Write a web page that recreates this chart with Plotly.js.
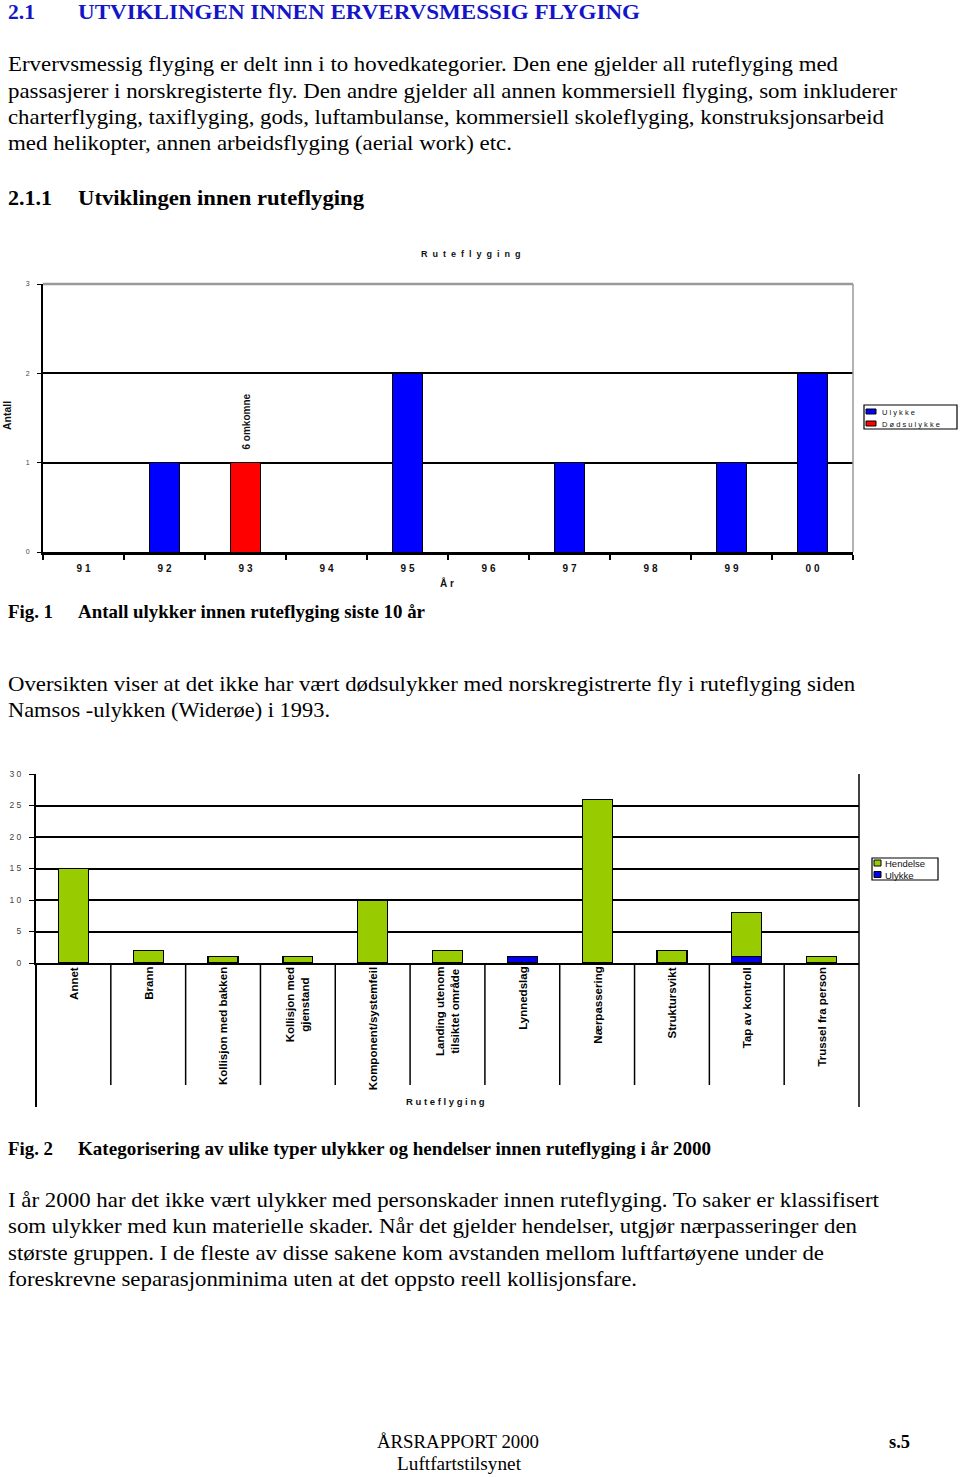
<!DOCTYPE html>
<html><head><meta charset="utf-8">
<script src="https://cdn.plot.ly/plotly-3.0.1.min.js"></script>
<style>
body{margin:0;width:960px;height:1477px;position:relative;background:#fff;overflow:hidden}
.t{position:absolute;white-space:nowrap;font-family:"Liberation Serif","Times New Roman",serif;color:#000;transform-origin:0 50%;font-size:21px;line-height:21px;height:21px}
.b{font-weight:bold}
.cap{font-size:19px;line-height:19px;height:19px}
.blue{color:#1515c8}
#c1,#c2{position:absolute;left:0;width:960px}
#c1{top:230px;height:370px}
#c2{top:760px;height:360px}
</style></head><body>

<div class="t b blue" style="left:8px;top:2px" data-w="27">2.1</div>
<div class="t b blue" style="left:78px;top:2px" data-w="562">UTVIKLINGEN INNEN ERVERVSMESSIG FLYGING</div>

<div class="t" style="left:8px;top:54px" data-w="830">Ervervsmessig flyging er delt inn i to hovedkategorier. Den ene gjelder all ruteflyging med</div>
<div class="t" style="left:8px;top:81px" data-w="889">passasjerer i norskregisterte fly. Den andre gjelder all annen kommersiell flyging, som inkluderer</div>
<div class="t" style="left:8px;top:107px" data-w="876">charterflyging, taxiflyging, gods, luftambulanse, kommersiell skoleflyging, konstruksjonsarbeid</div>
<div class="t" style="left:8px;top:133px" data-w="504">med helikopter, annen arbeidsflyging (aerial work) etc.</div>

<div class="t b" style="left:8px;top:188px" data-w="44">2.1.1</div>
<div class="t b" style="left:78px;top:188px" data-w="286">Utviklingen innen ruteflyging</div>

<div id="c1"></div>

<div class="t b cap" style="left:8px;top:602px" data-w="45">Fig. 1</div>
<div class="t b cap" style="left:78px;top:602px" data-w="347">Antall ulykker innen ruteflyging siste 10 år</div>

<div class="t" style="left:8px;top:674px" data-w="847">Oversikten viser at det ikke har vært dødsulykker med norskregistrerte fly i ruteflyging siden</div>
<div class="t" style="left:8px;top:700px" data-w="322">Namsos -ulykken (Widerøe) i 1993.</div>

<div id="c2"></div>

<div class="t b cap" style="left:8px;top:1139px" data-w="45">Fig. 2</div>
<div class="t b cap" style="left:78px;top:1139px" data-w="633">Kategorisering av ulike typer ulykker og hendelser innen ruteflyging i år 2000</div>

<div class="t" style="left:8px;top:1190px" data-w="871">I år 2000 har det ikke vært ulykker med personskader innen ruteflyging. To saker er klassifisert</div>
<div class="t" style="left:8px;top:1216px" data-w="849">som ulykker med kun materielle skader. Når det gjelder hendelser, utgjør nærpasseringer den</div>
<div class="t" style="left:8px;top:1243px" data-w="816">største gruppen. I de fleste av disse sakene kom avstanden mellom luftfartøyene under de</div>
<div class="t" style="left:8px;top:1269px" data-w="629">foreskrevne separasjonminima uten at det oppsto reell kollisjonsfare.</div>

<div class="t cap" style="left:377px;top:1432px" data-w="162">ÅRSRAPPORT 2000</div>
<div class="t cap" style="left:397px;top:1454px" data-w="124">Luftfartstilsynet</div>
<div class="t b cap" style="left:889px;top:1432px" data-w="21">s.5</div>

<script>
// ---------- data: figure 1 ----------
const aar = ['91','92','93','94','95','96','97','98','99','00'];
const ulykkerPerAar = [0,1,0,0,2,0,1,0,1,2];
const dodsulykkerPerAar = [0,0,1,0,0,0,0,0,0,0];
const serier1 = ['Ulykke','Dødsulykke'];
const antallTicks1 = [0,1,2,3];
const merknad93 = '6 omkomne';

// ---------- data: figure 2 ----------
const kategorier = ['Annet','Brann','Kollisjon med bakken','Kollisjon med gjenstand','Komponent/systemfeil',
  'Landing utenom tilsiktet område','Lynnedslag','Nærpassering','Struktursvikt','Tap av kontroll','Trussel fra person'];
const kategoriEtiketter = ['Annet','Brann','Kollisjon med bakken','Kollisjon med<br>gjenstand','Komponent/systemfeil',
  'Landing utenom<br>tilsiktet område','Lynnedslag','Nærpassering','Struktursvikt','Tap av kontroll','Trussel fra person'];
const hendelser = [15,2,1,1,10,2,0,26,2,7,1];
const ulykker2000 = [0,0,0,0,0,0,1,0,0,1,0];
const serier2 = ['Hendelse','Ulykke'];
const antallTicks2 = [0,5,10,15,20,25,30];

const SANS = '"Liberation Sans", Arial, sans-serif';
const nz = a => a.map(v => v === 0 ? null : v);
const sp = (s, g) => String(s).split('').join(g || ' ');
const NB2 = '\u00a0\u00a0';

// ---------- chart 1 ----------
(function(){
  const pL=43, pR=853, pT=284, pB=552;
  const px = x => (x - pL) / (pR - pL);
  const py = y => (pB - y) / (pB - pT);
  const blue = '#0000ff', red = '#ff0000';
  const traces = [
    {type:'bar', x:aar, y:nz(ulykkerPerAar), name:serier1[0], width:0.38,
     marker:{color:blue, line:{color:'#000', width:1}}},
    {type:'bar', x:aar, y:nz(dodsulykkerPerAar), name:serier1[1], width:0.38,
     marker:{color:red, line:{color:'#000', width:1}}}
  ];
  const sw = (i, col) => ({type:'rect', xref:'paper', yref:'paper',
     x0:px(866), x1:px(876), y0:py(409 + i*12), y1:py(414 + i*12),
     fillcolor:col, line:{color:'#000', width:1}});
  const A = (o) => Object.assign({showarrow:false, xanchor:'center', yanchor:'middle', xref:'paper', yref:'paper'}, o);
  const layout = {
    width:960, height:370, margin:{l:pL, r:960-pR, t:pT-230, b:230+370-pB},
    paper_bgcolor:'rgba(0,0,0,0)', plot_bgcolor:'#fff', showlegend:false, barmode:'stack',
    xaxis:{type:'category', categoryorder:'array', categoryarray:aar, range:[-0.5, aar.length-0.5],
      tickvals:aar, ticktext:aar.map(a=>sp(a)), ticks:'outside', tickson:'boundaries',
      ticklen:5, tickwidth:1.5, tickcolor:'#000', showline:true, linecolor:'#000', linewidth:2.5,
      ticklabelstandoff:5,
      tickfont:{family:SANS, size:10, color:'#111', weight:'bold'}, showgrid:false, zeroline:false},
    yaxis:{range:[0,3], tickvals:antallTicks1, ticktext:antallTicks1.map(String), ticks:'outside', ticklen:4,
      tickcolor:'#000', tickwidth:1, showline:true, linecolor:'#000', linewidth:2,
      showgrid:true, gridcolor:'#000', gridwidth:2, zeroline:false, ticklabelstandoff:6,
      tickfont:{family:SANS, size:7, color:'#444'}},
    shapes:[
      {type:'line', xref:'paper', yref:'paper', x0:0, x1:1, y0:1, y1:1, line:{color:'#9a9a9a', width:2.5}},
      {type:'line', xref:'paper', yref:'paper', x0:1, x1:1, y0:0, y1:1, line:{color:'#9a9a9a', width:1.5}},
      {type:'rect', xref:'paper', yref:'paper', x0:px(864), x1:px(957), y0:py(405), y1:py(429),
       fillcolor:'#fff', line:{color:'#000', width:1.2}},
      sw(0, blue), sw(1, red)
    ],
    annotations:[
      A({text:sp('Ruteflyging', NB2), x:px(471), y:py(254), font:{family:SANS, size:9, color:'#111', weight:'bold'}}),
      A({text:sp('År'), x:px(447), y:py(583), font:{family:SANS, size:10, color:'#111', weight:'bold'}}),
      A({text:'Antall', x:px(7), y:py(416), textangle:-90, font:{family:SANS, size:10.5, color:'#111', weight:'bold'}}),
      A({text:merknad93, xref:'x', yref:'y', x:aar.indexOf('93'), y:(pB-422)/(pB-pT)*3, textangle:-90,
         font:{family:SANS, size:10, color:'#111', weight:'bold'}}),
      A({text:sp(serier1[0]), x:px(880), y:py(412), xanchor:'left', font:{family:SANS, size:7.5, color:'#111'}}),
      A({text:sp(serier1[1]), x:px(880), y:py(424), xanchor:'left', font:{family:SANS, size:7.5, color:'#111'}})
    ]
  };
  Plotly.newPlot('c1', traces, layout, {displayModeBar:false, staticPlot:true});
})();

// ---------- chart 2 ----------
(function(){
  const pL=36, pR=859, pT=774, pB=963;
  const px = x => (x - pL) / (pR - pL);
  const py = y => (pB - y) / (pB - pT);
  const green = '#99cc00', blue = '#0000ee';
  const n = kategorier.length;
  const traces = [
    {type:'bar', x:kategorier, y:nz(ulykker2000), name:serier2[1], width:0.4,
     marker:{color:blue, line:{color:'#000', width:1.2}}},
    {type:'bar', x:kategorier, y:nz(hendelser), name:serier2[0], width:0.4,
     marker:{color:green, line:{color:'#000', width:1.2}}}
  ];
  const shapes = [
    {type:'line', xref:'paper', yref:'paper', x0:0, x1:0, y0:0, y1:py(1107), line:{color:'#000', width:2}},
    {type:'line', xref:'paper', yref:'paper', x0:1, x1:1, y0:1, y1:py(1107), line:{color:'#000', width:1.5}}
  ];
  for (let i = 1; i < n; i++) {
    shapes.push({type:'line', xref:'paper', yref:'paper', x0:i/n, x1:i/n, y0:0, y1:py(1085),
      line:{color:'#000', width:1.5}});
  }
  shapes.push({type:'rect', xref:'paper', yref:'paper', x0:px(872), x1:px(938), y0:py(858), y1:py(880),
    fillcolor:'#fff', line:{color:'#000', width:1.2}});
  const sw = (i, col) => ({type:'rect', xref:'paper', yref:'paper',
     x0:px(874), x1:px(881), y0:py(860 + i*11.5), y1:py(866 + i*11.5),
     fillcolor:col, line:{color:'#000', width:1}});
  shapes.push(sw(0, green), sw(1, blue));
  const A = (o) => Object.assign({showarrow:false, xanchor:'center', yanchor:'middle', xref:'paper', yref:'paper'}, o);
  const annotations = kategoriEtiketter.map((lab, i) => A({
    text:lab, xref:'x', x:i, y:py(965), yanchor:'top', textangle:-90, align:'center',
    font:{family:SANS, size:11.5, color:'#000', weight:'bold'}
  }));
  annotations.push(
    A({text:sp('Ruteflyging'), x:px(445), y:py(1101), font:{family:SANS, size:9.5, color:'#111', weight:'bold'}}),
    A({text:serier2[0], x:px(883), y:py(863), xanchor:'left', font:{family:SANS, size:9.5, color:'#111'}}),
    A({text:serier2[1], x:px(883), y:py(875), xanchor:'left', font:{family:SANS, size:9.5, color:'#111'}})
  );
  const layout = {
    width:960, height:360, margin:{l:pL, r:960-pR, t:pT-760, b:760+360-pB},
    paper_bgcolor:'rgba(0,0,0,0)', plot_bgcolor:'#fff', showlegend:false, barmode:'stack',
    xaxis:{type:'category', categoryorder:'array', categoryarray:kategorier, range:[-0.5, n-0.5],
      showticklabels:false, ticks:'', showline:true, linecolor:'#000', linewidth:2, showgrid:false, zeroline:false},
    yaxis:{range:[0,30], tickvals:antallTicks2, ticktext:antallTicks2.map(v=>sp(v)), ticks:'outside',
      ticklen:5, tickcolor:'#000', tickwidth:1, showline:true, linecolor:'#000', linewidth:2,
      showgrid:true, gridcolor:'#000', gridwidth:2, zeroline:false, ticklabelstandoff:6,
      tickfont:{family:SANS, size:8.5, color:'#444'}},
    shapes:shapes, annotations:annotations
  };
  Plotly.newPlot('c2', traces, layout, {displayModeBar:false, staticPlot:true});
})();

// fit text lines to the widths measured in the reference
document.querySelectorAll('.t[data-w]').forEach(el => {
  const w = el.getBoundingClientRect().width;
  const target = parseFloat(el.dataset.w);
  if (w > 0) el.style.transform = 'scaleX(' + (target / w).toFixed(4) + ')';
});
</script>
</body></html>
